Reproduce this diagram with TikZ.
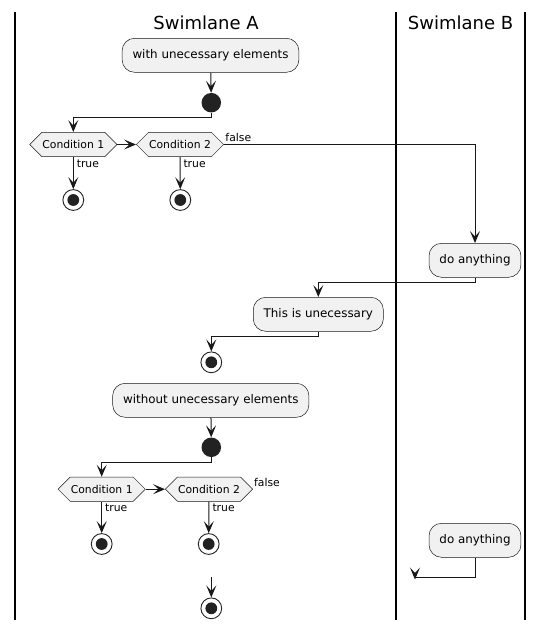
\documentclass[tikz,border=0pt]{standalone}
\usepackage{fontspec}
\setmainfont{DejaVu Sans}
\usepackage{tikz}
\usetikzlibrary{arrows.meta,shapes.symbols}
\definecolor{umlline}{HTML}{181818}
\definecolor{umlfill}{HTML}{F1F1F1}
\definecolor{umldot}{HTML}{222222}

\begin{document}
\begin{tikzpicture}[
    x=1pt,
    y=-1pt,
    font=\fontsize{11.9}{14}\selectfont,
    action/.style={rectangle, rounded corners=12.5pt, draw=umlline, line width=0.5pt,
        fill=umlfill, minimum height=34pt, inner xsep=10.4pt},
    choice/.style={signal, signal to=west and east, signal pointer angle=90,
        draw=umlline, line width=0.5pt, fill=umlfill, minimum height=24.4pt,
        inner xsep=0.5pt, font=\fontsize{10.8}{13}\selectfont},
    begin/.style={circle, fill=umldot, minimum size=19.5pt, inner sep=0pt},
    finish/.style={circle, draw=umldot, line width=0.9pt, fill=white, minimum size=20.8pt,
        inner sep=0pt, path picture={\fill[umldot] (path picture bounding box.center) circle (5.9pt);}},
    flow/.style={-{Stealth[length=12pt,width=10pt,inset=5.5pt]}, line width=1pt, draw=umlline},
    lbl/.style={font=\fontsize{10.8}{13}\selectfont, inner xsep=1pt, inner ysep=2pt},
    lane/.style={line width=1.5pt, black}
]
    \useasboundingbox (0,0) rectangle (544,630);

    % Lanes
    \draw[lane] (15,12) -- (15,620);
    \draw[lane] (396,12) -- (396,620);
    \draw[lane] (525,12) -- (525,620);
    \node[font=\fontsize{18}{21}\selectfont] (laneA) at (206,23) {Swimlane A};
    \node[font=\fontsize{18}{21}\selectfont] (laneB) at (460.5,23) {Swimlane B};

    % With unecessary elements
    \node[action] (with) at (210.5,55.3) {with unecessary elements};
    \node[begin] (start1) at (211.3,102.7) {};
    \node[choice] (cond1) at (73.3,144.5) {Condition 1};
    \node[choice] (cond2) at (180,144.5) {Condition 2};
    \node[finish] (stop1) at (73.3,200) {};
    \node[finish] (stop2) at (180.3,200) {};
    \node[action] (doA) at (475,260.3) {do anything};
    \node[action] (unec) at (318.3,314.3) {This is unecessary};
    \node[finish] (stop3) at (211.3,362.3) {};

    \draw[flow] (with) -- (start1);
    \draw[flow] (start1.south) -- ++(0,5) -| (cond1.north);
    \draw[flow] (cond1.east) -- (cond2.west);
    \draw[flow] (cond1.south) -- node[lbl, pos=0, anchor=north west, xshift=2pt] {true} (stop1.north);
    \draw[flow] (cond2.south) -- node[lbl, pos=0, anchor=north west, xshift=2pt] {true} (stop2.north);
    \draw[flow] (cond2.east) -- node[lbl, pos=0, anchor=south west] {false} ++(0,0) -| (doA.north);
    \draw[flow] (doA.south) -- ++(0,5) -| (unec.north);
    \draw[flow] (unec.south) -- ++(0,5) -| (stop3.north);

    % Without unecessary elements
    \node[action] (without) at (210.8,400.3) {without unecessary elements};
    \node[begin] (start2) at (211.3,447.3) {};
    \node[choice] (cond1b) at (101.7,489.2) {Condition 1};
    \node[choice] (cond2b) at (209,489.2) {Condition 2};
    \node[lbl, anchor=south west] (falseb) at (cond2b.east) {false};
    \node[finish] (stop4) at (101.7,544) {};
    \node[finish] (stop5) at (208.7,544) {};
    \node[finish] (stop6) at (211.3,608.3) {};
    \node[action] (doB) at (475,540.3) {do anything};
    \coordinate (loose) at (211.3,577.3);
    \coordinate (dangle) at (415,579.5);

    \draw[flow] (without) -- (start2);
    \draw[flow] (start2.south) -- ++(0,5) -| (cond1b.north);
    \draw[flow] (cond1b.east) -- (cond2b.west);
    \draw[flow] (cond1b.south) -- node[lbl, pos=0, anchor=north west, xshift=2pt] {true} (stop4.north);
    \draw[flow] (cond2b.south) -- node[lbl, pos=0, anchor=north west, xshift=2pt] {true} (stop5.north);
    \draw[flow] (loose) -- (stop6.north);
    \draw[flow] (doB.south) -- ++(0,20) -| (dangle);
\end{tikzpicture}
\end{document}
